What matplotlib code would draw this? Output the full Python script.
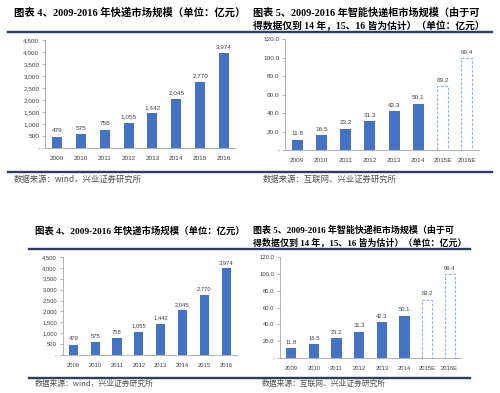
import matplotlib
matplotlib.use("Agg")
import matplotlib.pyplot as plt
from matplotlib.lines import Line2D

W, H = 500, 393

# ---------------- data ----------------
express_years = ['2009', '2010', '2011', '2012', '2013', '2014', '2015', '2016']
express_values = [479, 575, 758, 1055, 1442, 2045, 2770, 3974]
express_yticks = [0, 500, 1000, 1500, 2000, 2500, 3000, 3500, 4000, 4500]

locker_years = ['2009', '2010', '2011', '2012', '2013', '2014', '2015E', '2016E']
locker_values = [11.8, 16.5, 23.2, 31.3, 42.3, 50.1, 69.2, 99.4]
locker_estimated = [False, False, False, False, False, False, True, True]
locker_yticks = [0, 20, 40, 60, 80, 100, 120]

title4 = "图表 4、2009-2016 年快递市场规模（单位：亿元）"
title5_l1 = "图表 5、2009-2016 年智能快递柜市场规模（由于可"
title5_l2 = "得数据仅到 14 年，15、16 皆为估计）（单位：亿元）"
source4 = "数据来源：wind，兴业证券研究所"
source5 = "数据来源：互联网、兴业证券研究所"

BLUE = '#4472C4'
EST_EDGE = '#8FB4E3'
NAVY = '#2F3B63'
TXT = '#404040'

TITLE_FAM = ['Liberation Serif', 'Noto Sans CJK SC']
CJK_FAM = ['Noto Sans CJK SC', 'DejaVu Sans']
NUM_FAM = ['Liberation Sans', 'DejaVu Sans']

fig = plt.figure(figsize=(W / 100, H / 100), dpi=100)
fig.patch.set_facecolor('white')


def fx(x):
    return x / W


def fy(y):
    return 1 - y / H


def add_axes_px(left, right, top, bottom):
    return fig.add_axes([fx(left), fy(bottom), (right - left) / W, (bottom - top) / H])


def hline(y, x0, x1, lw=1.7):
    fig.add_artist(Line2D([fx(x0), fx(x1)], [fy(y), fy(y)], color=NAVY, lw=lw,
                          transform=fig.transFigure))


def text_px(x, y, s, size, family, weight='normal', color='black'):
    fig.text(fx(x), fy(y), s, fontsize=size, family=family, fontweight=weight,
             color=color, ha='left', va='center')


def draw_panel(ax, cats, vals, est, yticks, fmt_tick, fmt_val, fs, bw, lab_off):
    x = list(range(len(cats)))
    for i, (v, e) in enumerate(zip(vals, est)):
        if e:
            ax.bar(i, v, width=bw, facecolor='white', edgecolor=EST_EDGE,
                   linestyle=(0, (2.5, 1.5)), linewidth=0.8, zorder=3)
        else:
            ax.bar(i, v, width=bw, color=BLUE, zorder=3)
        ax.annotate(fmt_val(v), (i, v), xytext=(0, lab_off), textcoords='offset points',
                    ha='center', va='bottom', fontsize=fs, color=TXT, family=NUM_FAM)
    ax.set_xlim(-0.5, len(cats) - 0.5)
    ax.set_ylim(yticks[0], yticks[-1])
    ax.set_yticks(yticks)
    ax.set_yticklabels([fmt_tick(t) for t in yticks], fontsize=fs, color=TXT, family=NUM_FAM)
    ax.set_xticks(x)
    ax.set_xticklabels(cats, fontsize=fs, color=TXT, family=NUM_FAM)
    for s in ['top', 'right']:
        ax.spines[s].set_visible(False)
    for s in ['left', 'bottom']:
        ax.spines[s].set_color('#A6A6A6')
        ax.spines[s].set_linewidth(0.6)
    ax.tick_params(axis='y', length=2, width=0.6, color='#A6A6A6', pad=2)
    ax.tick_params(axis='x', length=0, pad=5.5)
    ax.set_facecolor('white')


def f_exp_tick(t):
    return '-' if t == 0 else f"{t:,.0f}"


def f_exp_val(v):
    return f"{v:,.0f}"


def f_lock_tick(t):
    return '-' if t == 0 else f"{t:.1f}"


def f_lock_val(v):
    return f"{v:.1f}"


express_est = [False] * len(express_values)

# ---------------- top row ----------------
ax1 = add_axes_px(45, 236, 40, 148)
draw_panel(ax1, express_years, express_values, express_est, express_yticks,
           f_exp_tick, f_exp_val, 4.6, 0.42, 2.5)
ax2 = add_axes_px(285, 479, 39, 150.5)
draw_panel(ax2, locker_years, locker_values, locker_estimated, locker_yticks,
           f_lock_tick, f_lock_val, 4.6, 0.45, 2.5)

text_px(14, 12.5, title4, 7.45, TITLE_FAM, 'bold')
text_px(253, 12.5, title5_l1, 7.3, TITLE_FAM, 'bold')
text_px(253, 25.5, title5_l2, 7.05, TITLE_FAM, 'bold')
hline(32, 8, 492)
hline(172, 8, 492)
text_px(14, 179.5, source4, 6.0, CJK_FAM, color='#505050')
text_px(263, 179.5, source5, 6.0, CJK_FAM, color='#505050')

# ---------------- bottom row ----------------
ax3 = add_axes_px(62.5, 237, 257, 355)
draw_panel(ax3, express_years, express_values, express_est, express_yticks,
           f_exp_tick, f_exp_val, 4.2, 0.42, 2.5)
ax4 = add_axes_px(280, 461, 257, 358)
draw_panel(ax4, locker_years, locker_values, locker_estimated, locker_yticks,
           f_lock_tick, f_lock_val, 4.2, 0.45, 2.5)

text_px(35, 230.5, title4, 6.75, TITLE_FAM, 'bold')
text_px(253, 230.5, title5_l1, 6.5, TITLE_FAM, 'bold')
text_px(253, 243, title5_l2, 6.45, TITLE_FAM, 'bold')
hline(249, 29, 470)
hline(377.5, 29, 470)
text_px(35, 383.5, source4, 5.6, CJK_FAM, color='#505050')
text_px(262, 383.5, source5, 5.6, CJK_FAM, color='#505050')

fig.savefig('out.png', dpi=100, facecolor='white')
